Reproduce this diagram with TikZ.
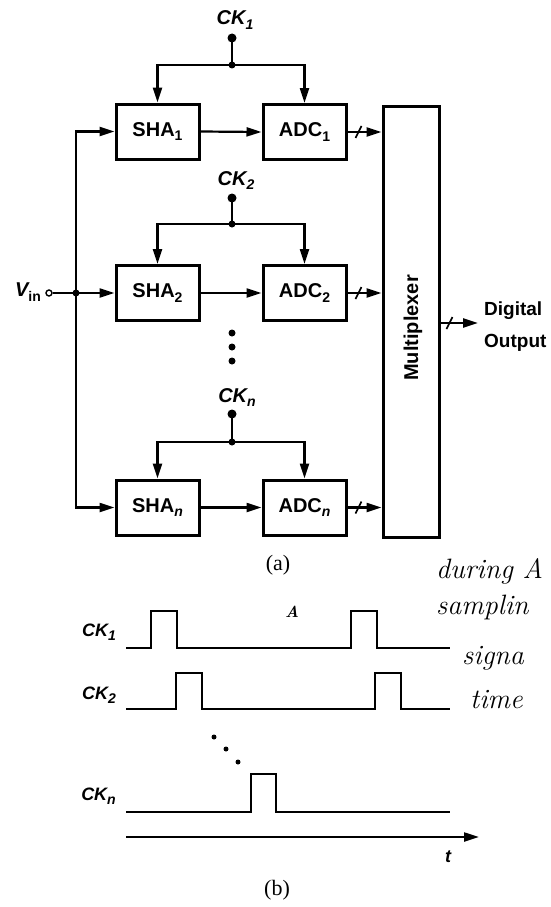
\documentclass[tikz,border=0pt]{standalone}
\usepackage{fontspec}
\newfontfamily\hv{Liberation Sans}
\newfontfamily\tm{Liberation Serif}
\usetikzlibrary{arrows.meta,calc}
\newcommand{\lsub}[1]{\raisebox{-0.45ex}{\fontsize{14pt}{14pt}\selectfont #1}}
\begin{document}
\begin{tikzpicture}[x=1pt,y=-1pt,
  blk/.style={draw,line width=3pt,minimum width=83pt,minimum height=55pt,inner sep=0pt,font=\hv\bfseries\fontsize{20pt}{20pt}\selectfont},
  lbl/.style={inner sep=0pt,font=\hv\bfseries\fontsize{20pt}{20pt}\selectfont},
  tlbl/.style={inner sep=0pt,font=\hv\bfseries\fontsize{18pt}{18pt}\selectfont},
  wire/.style={line width=2.2pt},
  arr/.style={wire,-{Triangle[length=15pt,width=9pt]}},
  slash/.style={line width=1.6pt},
  dot/.style={circle,fill,inner sep=0pt,minimum size=9pt},
  jdot/.style={circle,fill,inner sep=0pt,minimum size=7pt},
  wave/.style={line width=2.8pt,line join=miter},
  hw/.style={inner sep=0pt,font=\itshape\fontsize{28pt}{28pt}\selectfont},
  captxt/.style={inner sep=0pt,font=\tm\fontsize{22pt}{22pt}\selectfont}
]
\useasboundingbox (0,0) rectangle (551,907);

% ---------- (a) ----------
\node[blk] (sha1) at (157.5,131.5) {SHA\lsub{1}};
\node[blk] (adc1) at (304.5,132) {ADC\lsub{1}};
\node[blk] (sha2) at (157.5,293) {SHA\lsub{2}};
\node[blk] (adc2) at (304.5,293) {ADC\lsub{2}};
\node[blk] (shan) at (157.5,507.5) {SHA\lsub{\itshape n}};
\node[blk] (adcn) at (304.5,507.5) {ADC\lsub{\itshape n}};
\node[draw,line width=3pt,minimum width=56pt,minimum height=431pt,inner sep=0pt] (mux) at (411,321.5) {};
\node[lbl,rotate=90] (muxt) at (413,328) {Multiplexer};

% clocks
\node[lbl,anchor=base] (ck1l) at (235,25) {\itshape CK\lsub{1}};
\node[dot] (ck1d) at (232,38) {};
\node[jdot] (ck1j) at (232,65) {};
\draw[wire] (ck1d.center) -- (ck1j.center);
\draw[arr] (ck1j.center) -| (sha1.north);
\draw[arr] (ck1j.center) -| (adc1.north);

\node[lbl,anchor=base] (ck2l) at (236,185) {\itshape CK\lsub{2}};
\node[dot] (ck2d) at (232,198) {};
\node[jdot] (ck2j) at (232,224) {};
\draw[wire] (ck2d.center) -- (ck2j.center);
\draw[arr] (ck2j.center) -| (sha2.north);
\draw[arr] (ck2j.center) -| (adc2.north);

\node[lbl,anchor=base] (cknl) at (237,402) {\itshape CK\lsub{n}};
\node[dot] (cknd) at (232,414) {};
\node[jdot] (cknj) at (232,442) {};
\draw[wire] (cknd.center) -- (cknj.center);
\draw[arr] (cknj.center) -| (shan.north);
\draw[arr] (cknj.center) -| (adcn.north);

% vertical dots
\foreach \yy [count=\i] in {333,347,361} \node[jdot] (vd\i) at (232,\yy) {};

% input bus
\node[lbl,anchor=east] (vinl) at (41,292) {\itshape V\lsub{\upshape in}};
\node[circle,draw,line width=1.4pt,inner sep=0pt,minimum size=6pt] (vin) at (49,293) {};
\node[jdot] (busj) at (76,293) {};
\draw[wire] (vin.east) -- (busj.center);
\draw[arr] (busj.center) -- (sha2.west);
\draw[arr] (busj.center) |- (sha1.west);
\draw[arr] (busj.center) |- (shan.west);

% SHA -> ADC
\draw[arr] (sha1.east) -- (adc1.west);
\draw[arr] (sha2.east) -- (adc2.west);
\draw[arr] (shan.east) -- (adcn.west);

% ADC -> MUX (with bus slash)
\foreach \a in {adc1,adc2,adcn}{
  \draw[arr] (\a.east) -- (\a.east -| mux.west);
  \draw[slash] ($(\a.east)+(8,6)$) -- ($(\a.east)+(14,-6)$);
}

% output
\coordinate (dout) at (478,323);
\draw[arr] (mux.east |- dout) -- (dout);
\draw[slash] ($(mux.east |- dout)+(6,6)$) -- ($(mux.east |- dout)+(12,-6)$);
\node[lbl,anchor=base west,font=\hv\bfseries\fontsize{19pt}{19pt}\selectfont] (dig) at (484,315) {Digital};
\node[lbl,anchor=base west,font=\hv\bfseries\fontsize{19pt}{19pt}\selectfont] (out) at (484,347) {Output};

\node[captxt] (capa) at (278,565) {(a)};

% ---------- (b) ----------
\node[tlbl,anchor=base east] (t1) at (116,636) {\itshape CK\lsub{1}};
\node[tlbl,anchor=base east] (t2) at (116,699) {\itshape CK\lsub{2}};
\node[tlbl,anchor=base east] (tn) at (116,800) {\itshape CK\lsub{n}};

\draw[wave] (126,648) -- (151,648) -- (151,611) -- (177,611) -- (177,648) -- (351,648) -- (351,611) -- (377,611) -- (377,648) -- (450,648);
\draw[wave] (126,709) -- (176,709) -- (176,673) -- (202,673) -- (202,709) -- (375,709) -- (375,673) -- (401,673) -- (401,709) -- (450,709);
\draw[wave] (126,812) -- (251,812) -- (251,774) -- (276,774) -- (276,812) -- (450,812);

\foreach \xx/\yy [count=\i] in {214/737,226/749,238/762} \node[circle,fill,inner sep=0pt,minimum size=5pt] (td\i) at (\xx,\yy) {};

\coordinate (t0) at (126,837);
\coordinate (tend) at (479,837);
\draw[arr] (t0) -- (tend);
\node[tlbl,anchor=base] (tl) at (448,862) {\itshape t};

\node[captxt] (capb) at (277,890) {(b)};

% handwritten notes
\node[inner sep=0pt,font=\bfseries\itshape\fontsize{16pt}{16pt}\selectfont] (mk) at (292,612) {A};
\node[hw,anchor=base west] (h1) at (436,578) {during A};
\node[hw,anchor=base west] (h2) at (436,614) {samplin};
\node[hw,anchor=base west] (h3) at (462,664) {signa};
\node[hw,anchor=base west] (h4) at (470,708) {time};
\end{tikzpicture}
\end{document}
